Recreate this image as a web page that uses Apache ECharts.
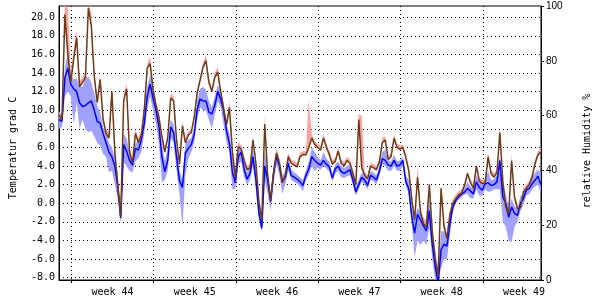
<!DOCTYPE html>
<html><head><meta charset="utf-8">
<script src="https://cdn.jsdelivr.net/npm/echarts@6/dist/echarts.min.js"></script>
<style>html,body{margin:0;padding:0;background:#fff}#c{width:600px;height:300px}</style>
</head><body><div id="c"></div>
<script>
// time axis: days relative to Monday of week 44
const startDay = -1.05;
const stepDay = 0.25;
const weekNames = ['week 44', 'week 45', 'week 46', 'week 47', 'week 48', 'week 49'];
const weekStarts = [0, 7, 14, 21, 28, 35];
const weekMids = [3.5, 10.5, 17.5, 24.5, 31.5, 38.5];
const tempTicks = [-8, -6, -4, -2, 0, 2, 4, 6, 8, 10, 12, 14, 16, 18, 20];
const humTicks = [0, 20, 40, 60, 80, 100];

// brown line (temperature)
const tempLine = [9.5,9.0,20.3,16.0,13.0,15.5,17.8,12.5,13.0,13.5,21.0,19.0,13.6,10.8,13.3,9.0,7.5,7.0,12.0,5.5,
2.0,-1.5,11.0,12.3,5.5,4.3,7.5,6.5,7.3,10.0,14.5,15.0,12.2,10.5,9.2,7.2,5.5,7.0,11.3,11.0,
6.8,4.2,8.3,6.5,7.3,7.6,9.2,11.8,13.2,14.6,15.3,13.0,12.0,13.5,14.1,12.0,10.2,8.4,10.3,5.5,
2.8,6.1,5.8,4.6,3.6,3.8,6.8,4.3,0.2,-1.8,8.5,3.0,0.3,3.3,5.4,4.3,2.2,3.0,5.0,4.3,
4.1,3.9,5.0,5.2,5.2,6.0,7.0,6.3,6.0,5.7,7.0,6.0,5.2,4.2,4.5,5.6,4.3,4.0,4.6,4.3,
3.2,2.0,9.0,3.8,3.0,2.6,4.0,3.8,3.6,4.4,6.5,6.8,4.7,5.0,7.0,6.0,5.8,6.0,4.9,3.5,
0.5,-1.8,2.8,-1.0,-2.2,-2.5,2.0,-3.0,-6.0,-7.8,1.6,-2.5,-3.8,-1.2,0.0,0.5,0.9,1.1,1.9,3.2,
2.2,1.6,4.0,2.4,2.1,2.2,5.0,3.2,2.8,3.3,7.6,2.4,-0.4,-1.1,4.6,0.6,-0.6,-0.5,1.2,1.6,
2.0,2.8,4.3,5.2,5.5];
// pink (temperature maximum)
const tempMax = [9.8,9.5,21.2,21.0,14.0,16.3,18.6,13.2,13.5,14.2,21.2,20.5,14.3,11.5,13.9,9.5,8.0,7.6,12.5,6.0,
2.5,-1.0,11.6,12.9,6.0,4.8,8.0,7.0,7.8,10.5,15.0,15.8,12.8,11.0,9.8,7.6,6.0,7.5,11.8,11.5,
7.2,4.6,8.8,7.0,7.7,8.0,9.6,12.3,13.7,15.1,15.9,13.4,12.4,14.0,14.6,12.4,10.7,8.9,11.0,6.0,
3.3,6.6,6.2,5.0,4.0,4.2,7.3,4.7,0.6,-1.4,9.4,3.5,0.8,3.7,5.8,4.7,2.6,3.4,5.4,4.7,
4.5,4.3,5.4,5.6,5.6,11.2,7.4,6.7,6.4,6.1,7.5,6.4,5.6,4.6,4.9,6.0,4.7,4.4,5.0,4.7,
3.6,2.4,9.6,9.4,3.4,3.0,4.4,4.2,4.0,4.8,7.0,7.2,5.1,5.4,7.4,6.4,6.2,6.3,5.3,4.0,
1.0,-1.3,4.0,-0.5,-1.7,-2.0,2.3,-2.5,-5.5,-7.3,2.0,-2.0,-3.3,-0.8,0.4,0.9,1.3,1.5,2.3,3.4,
2.6,2.0,4.3,2.8,2.5,2.6,5.4,3.6,3.2,3.7,8.1,2.8,0.0,-0.7,5.2,1.0,-0.2,-0.1,1.6,2.0,
2.4,3.2,4.7,5.6,5.8];
// blue line
const tempB = [9.0,8.8,13.5,14.5,12.8,12.3,12.0,10.8,10.4,10.5,10.8,11.0,10.0,8.8,8.6,7.5,6.5,5.5,5.0,4.0,
1.8,-1.6,6.3,5.6,4.6,4.1,5.9,5.7,6.8,8.5,11.5,12.8,11.3,10.0,8.3,5.0,3.4,4.6,8.2,7.6,
5.0,2.4,1.7,5.4,5.9,6.3,7.4,10.0,11.2,11.0,11.0,9.8,9.6,10.5,12.0,11.2,10.0,7.8,6.4,3.3,
2.2,5.0,5.5,3.6,2.6,3.2,5.0,2.5,-1.0,-2.7,4.0,2.5,0.2,3.2,5.0,4.0,2.3,2.8,4.3,3.0,
2.8,2.6,2.3,1.9,3.0,3.7,5.0,4.6,4.3,4.1,4.6,4.2,3.9,2.7,3.7,4.0,3.4,3.2,3.4,3.6,
2.5,1.2,2.0,2.8,2.5,1.9,3.0,2.8,2.5,3.4,4.8,4.6,4.1,4.0,4.6,4.0,4.1,4.6,2.3,1.6,
-1.4,-3.2,-1.2,-1.8,-2.4,-3.0,-0.8,-4.4,-6.8,-8.6,-5.0,-4.4,-4.6,-2.2,-0.4,0.3,0.7,1.0,1.2,1.6,
1.3,1.0,2.3,1.7,1.4,2.1,2.2,1.9,2.0,2.3,4.6,0.7,0.0,-1.5,-0.4,-1.1,-1.3,0.0,0.5,1.4,
1.6,2.1,2.5,2.9,2.0];
// light blue band: low and high
const tempBLow = [8.0,8.2,11.5,12.0,11.5,8.5,10.8,8.0,9.0,8.0,7.6,7.8,7.2,6.5,6.2,5.3,5.0,3.3,3.5,2.0,
0.5,-2.2,4.5,4.0,3.5,3.3,4.5,4.8,5.5,7.5,10.0,11.5,10.0,8.5,6.5,2.2,2.5,3.5,7.0,6.5,
3.5,1.0,-2.5,3.0,4.8,5.5,6.5,9.0,10.3,10.0,10.0,9.0,8.0,9.5,11.0,10.3,8.5,6.5,5.5,1.5,
1.5,4.2,4.5,2.8,2.0,2.5,4.0,1.5,-1.8,-3.0,2.5,1.0,-0.8,2.0,4.2,3.0,1.0,2.0,3.5,2.5,
2.3,2.1,1.8,1.3,2.5,3.0,4.0,3.5,3.8,3.6,4.0,3.7,3.4,2.3,3.2,3.5,2.8,2.7,2.9,3.0,
2.0,0.8,1.5,2.3,2.0,1.5,2.5,2.4,2.0,2.9,4.2,4.0,3.5,3.5,4.0,3.5,3.5,4.0,1.8,1.0,
-2.0,-5.8,-4.0,-4.5,-4.0,-4.5,-2.5,-6.0,-8.3,-8.3,-7.0,-6.0,-6.0,-3.5,-1.0,0.0,0.4,0.7,0.9,1.0,
0.5,0.5,1.5,0.8,0.8,1.5,1.2,1.3,1.5,1.5,1.5,-2.0,-2.5,-4.0,-4.2,-2.5,-2.0,-0.8,-0.2,0.8,
1.0,1.5,1.8,2.0,1.0];
const tempBHigh = [9.8,9.5,14.5,16.3,13.8,13.3,13.4,12.5,12.5,13.5,13.6,13.0,11.8,10.5,9.8,8.2,7.5,6.5,6.0,5.0,
3.0,-0.8,7.5,7.0,5.5,4.8,6.5,6.5,7.5,9.5,12.5,13.8,12.5,10.8,9.0,6.5,4.5,6.0,9.0,8.5,
6.0,3.5,2.5,6.5,6.8,7.0,8.2,11.0,12.3,12.5,12.2,11.0,10.3,11.5,12.7,12.0,10.8,8.5,7.5,5.0,
3.0,5.8,6.2,4.5,3.3,4.0,6.0,3.5,0.0,-1.5,5.5,3.5,1.0,4.0,5.8,4.8,3.0,3.5,5.0,3.6,
3.3,3.1,2.8,2.5,3.5,4.5,6.0,5.5,5.0,4.6,5.5,4.8,4.4,3.2,4.2,4.5,4.0,3.8,4.0,4.2,
3.0,1.8,2.6,3.3,3.0,2.4,3.5,3.3,3.0,4.0,5.5,5.8,4.6,4.5,5.2,4.5,4.6,5.0,3.0,2.5,
-0.5,-1.5,-0.5,-1.0,-1.5,-2.0,0.5,-3.5,-5.0,-7.0,-3.0,-3.0,-3.5,-1.0,0.0,0.7,1.0,1.3,1.6,2.3,
1.8,1.5,3.0,2.3,2.0,2.6,3.5,2.5,2.6,3.0,5.0,2.0,1.0,-0.5,0.5,-0.3,-0.6,0.8,1.0,2.0,
2.2,2.8,3.3,3.6,3.2];

const xOf = i => startDay + i * stepDay;
const pairs = arr => arr.map((v, i) => [xOf(i), v]);

// band drawn as polygon between low and high arrays, mapped through the axes
function bandSeries(lo, hi, color) {
  return {
    type: 'custom', silent: true, clip: true,
    data: [[startDay, lo[0]]],
    renderItem: (params, api) => {
      const pts = [];
      for (let i = 0; i < hi.length; i++) pts.push(api.coord([xOf(i), hi[i]]));
      for (let i = lo.length - 1; i >= 0; i--) pts.push(api.coord([xOf(i), lo[i]]));
      const cs = params.coordSys;
      return {
        type: 'polygon', shape: {points: pts}, style: {fill: color, stroke: null},
        clipPath: {type: 'rect', shape: {x: cs.x, y: cs.y, width: cs.width, height: cs.height}}
      };
    }
  };
}

const mono = 'DejaVu Sans Mono';
const dotted = {color: '#000', width: 1, type: [1, 3]};

const chart = echarts.init(document.getElementById('c'), null, {renderer: 'canvas'});
chart.setOption({
  animation: false,
  backgroundColor: '#fff',
  grid: {left: 54, right: 54, top: 6, bottom: 20, show: true, borderColor: '#000', borderWidth: 1, backgroundColor: 'transparent'},
  xAxis: {
    type: 'value', min: startDay, max: startDay + 41,
    axisLine: {show: true, onZero: false, lineStyle: {color: '#000', width: 1}},
    axisTick: {show: true, length: 3, customValues: weekStarts, lineStyle: {color: '#000'}},
    axisLabel: {customValues: weekMids, margin: 7, color: '#000', fontFamily: mono, fontSize: 10,
      formatter: v => weekNames[weekMids.indexOf(v)] || ''},
    splitLine: {show: true, lineStyle: dotted}
  },
  yAxis: [{
    type: 'value', min: -8.25, max: 21.2, position: 'left',
    name: 'Temperatur grad C', nameLocation: 'middle', nameGap: 41, nameRotate: 90,
    nameTextStyle: {color: '#000', fontFamily: mono, fontSize: 10, padding: [0, 10, 0, 0]},
    axisLine: {show: true, onZero: false, lineStyle: {color: '#000'}},
    axisTick: {show: false, customValues: tempTicks},
    axisLabel: {customValues: tempTicks, margin: 4, color: '#000', fontFamily: mono, fontSize: 10,
      formatter: v => v.toFixed(1)},
    splitLine: {show: true, lineStyle: dotted}
  }, {
    type: 'value', min: 0, max: 100, interval: 20, position: 'right',
    name: 'relative Humidity %', nameLocation: 'middle', nameGap: 41, nameRotate: 90,
    nameTextStyle: {color: '#000', fontFamily: mono, fontSize: 10, padding: [0, 16, 0, 0]},
    axisLine: {show: true, onZero: false, lineStyle: {color: '#000'}},
    axisTick: {show: true, length: 3, lineStyle: {color: '#000'}},
    axisLabel: {margin: 5, color: '#000', fontFamily: 'Liberation Sans', fontSize: 10},
    splitLine: {show: false}
  }],
  series: [
    bandSeries(tempBLow, tempBHigh, '#a0a0ff'),
    bandSeries(tempLine, tempMax, '#ffa0a0'),
    {type: 'line', name: 'blue', data: pairs(tempB), symbol: 'none',
     lineStyle: {color: '#0000ff', width: 1.5}},
    {type: 'line', name: 'temp', data: pairs(tempLine), symbol: 'none',
     lineStyle: {color: '#6e3a16', width: 1.5}}
  ]
});
</script>
</body></html>
